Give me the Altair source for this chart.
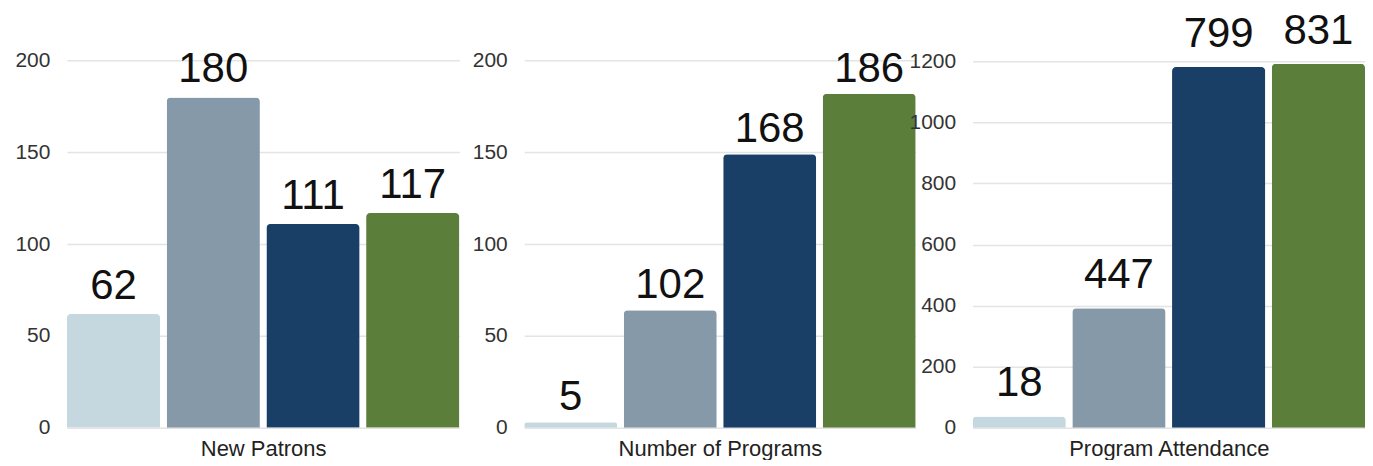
import altair as alt
import pandas as pd

# ---- data ----
series = ["Year 1", "Year 2", "Year 3", "Year 4"]
colors = ["#c6d8df", "#8599a8", "#1a3f66", "#5c7e3b"]

metrics = ["New Patrons", "Number of Programs", "Program Attendance"]

new_patrons_bars = [62, 180, 111, 117]
new_patrons_labels = ["62", "180", "111", "117"]

programs_bars = [3, 64, 149, 182]
programs_labels = ["5", "102", "168", "186"]

attendance_bars = [37, 391, 1181, 1192]
attendance_labels = ["18", "447", "799", "831"]

ticks_small = [0, 50, 100, 150, 200]
ticks_large = [0, 200, 400, 600, 800, 1000, 1200]

FONT = "Liberation Sans"


def panel(metric, bars, labels, ticks, ymax, width, label_dy):
    df = pd.DataFrame({"series": series, "value": bars, "label": labels})
    x = alt.X(
        "series:N",
        sort=series,
        scale=alt.Scale(paddingInner=0.065, paddingOuter=0),
        axis=alt.Axis(
            title=metric,
            labels=False,
            ticks=False,
            domain=False,
            grid=False,
            titlePadding=11,
            titleFontSize=22,
            titleFont=FONT,
            titleFontWeight="normal",
            titleColor="#222222",
        ),
    )
    y = alt.Y(
        "value:Q",
        scale=alt.Scale(domain=[0, ymax], nice=False, zero=True),
        axis=alt.Axis(
            title=None,
            values=ticks,
            format="d",
            ticks=False,
            domain=False,
            labelPadding=17,
            labelFontSize=21,
            labelFont=FONT,
            labelColor="#333333",
            gridColor="#e4e4e4",
            gridWidth=1.5,
        ),
    )
    bar = alt.Chart(df).mark_bar(
        cornerRadiusTopLeft=4, cornerRadiusTopRight=4
    ).encode(
        x=x,
        y=y,
        color=alt.Color(
            "series:N",
            scale=alt.Scale(domain=series, range=colors),
            legend=None,
        ),
    )
    text = alt.Chart(df).mark_text(
        baseline="alphabetic",
        align="center",
        dy=label_dy,
        fontSize=42,
        font=FONT,
        color="#111111",
    ).encode(x=x, y=y, text="label:N")
    return alt.layer(bar, text).properties(width=width, height=420)


p1 = panel(metrics[0], new_patrons_bars, new_patrons_labels, ticks_small, 228.57, 393, -15)
p2 = panel(metrics[1], programs_bars, programs_labels, ticks_small, 228.57, 392, -12)
p3 = panel(metrics[2], attendance_bars, attendance_labels, ticks_large, 1373.3, 393, -20)

chart = alt.hconcat(
    alt.hconcat(p1, p2, spacing=12),
    p3,
    spacing=-7,
).properties(
    padding={"left": 6, "top": 0, "right": 0, "bottom": 0}
).configure(
    font=FONT,
    view=alt.ViewConfig(stroke=None),
)

chart.save("out.html", embed_options={"renderer": "svg", "actions": False})
